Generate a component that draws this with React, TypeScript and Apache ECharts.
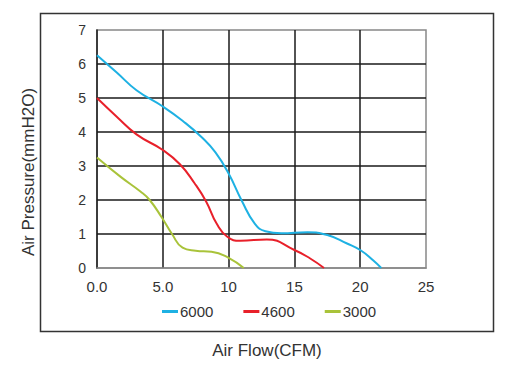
import React, { useEffect, useRef } from "react";
import * as echarts from "echarts";

const flow6000 = [0, 1.5, 3.0, 5.0, 6.5, 8.0, 9.0, 10.0, 11.0, 12.0, 12.8, 14.0, 16.0, 17.5, 19.0, 20.0, 21.0, 21.6];
const pressure6000 = [6.26, 5.75, 5.23, 4.75, 4.33, 3.83, 3.4, 2.78, 1.98, 1.3, 1.08, 1.02, 1.05, 0.97, 0.72, 0.53, 0.22, 0];

const flow4600 = [0, 1.5, 3.0, 5.0, 6.3, 7.4, 8.3, 9.1, 9.9, 10.9, 12.9, 15.0, 16.2, 17.25];
const pressure4600 = [5.0, 4.45, 3.93, 3.47, 3.05, 2.5, 1.95, 1.3, 0.92, 0.8, 0.84, 0.53, 0.28, 0];

const flow3000 = [0, 1.8, 3.3, 4.0, 4.9, 5.7, 6.5, 7.5, 8.7, 10.0, 11.15];
const pressure3000 = [3.25, 2.68, 2.25, 2.0, 1.5, 1.0, 0.6, 0.51, 0.48, 0.3, 0];

const seriesNames = ["6000", "4600", "3000"];
const xTickLabels: Record<number, string> = { 0: "0.0", 5: "5.0", 10: "10", 15: "15", 20: "20", 25: "25" };

const xTitle = "Air Flow(CFM)";
const yTitle = "Air Pressure(mmH2O)";

const zip = (xs: number[], ys: number[]) => xs.map((x, i) => [x, ys[i]]);

export default function App() {
  const ref = useRef<HTMLDivElement>(null);
  useEffect(() => {
    if (!ref.current) return;
    const chart = echarts.init(ref.current, null, { renderer: "svg" });
    const font = "'Liberation Sans', Arial, Helvetica, sans-serif";
    const colors = ["#1eb1e3", "#e8202a", "#a9c33a"];
    const datasets = [
      zip(flow6000, pressure6000),
      zip(flow4600, pressure4600),
      zip(flow3000, pressure3000),
    ];
    chart.setOption({
      animation: false,
      backgroundColor: "#ffffff",
      textStyle: { fontFamily: font },
      grid: {
        left: 97,
        right: 83,
        top: 30,
        bottom: 107,
        show: true,
        borderColor: "#888888",
        borderWidth: 1.5,
        backgroundColor: "transparent",
      },
      legend: {
        data: seriesNames,
        left: 157,
        top: 299,
        icon: "rect",
        itemWidth: 16,
        itemHeight: 3,
        itemGap: 30,
        textStyle: { fontSize: 15, color: "#333", fontFamily: font, padding: [0, 0, 0, -3] },
      },
      xAxis: {
        type: "value",
        min: 0,
        max: 25,
        interval: 5,
        axisLine: { show: true, lineStyle: { color: "#888888", width: 1.5 } },
        axisTick: { show: false },
        axisLabel: {
          fontSize: 15,
          color: "#333",
          margin: 11,
          fontFamily: font,
          formatter: (v: number) => xTickLabels[v] ?? String(v),
        },
        splitLine: { show: true, showMaxLine: false, showMinLine: false, lineStyle: { color: "#1a1a1a", width: 1.5 } },
      },
      yAxis: {
        type: "value",
        min: 0,
        max: 7,
        interval: 1,
        axisLine: { show: true, lineStyle: { color: "#1a1a1a", width: 1.5 } },
        axisTick: { show: false },
        axisLabel: { fontSize: 14, color: "#333", margin: 11, fontFamily: font },
        splitLine: { show: true, showMaxLine: false, showMinLine: false, lineStyle: { color: "#1a1a1a", width: 1.5 } },
      },
      graphic: [
        {
          type: "rect",
          shape: { x: 40.5, y: 13.5, width: 453, height: 318 },
          style: { fill: "none", stroke: "#333333", lineWidth: 1.5 },
          silent: true,
          z: -1,
        },
        {
          type: "text",
          x: 28,
          y: 172,
          rotation: Math.PI / 2,
          style: {
            text: yTitle,
            font: `17px ${font}`,
            fill: "#333",
            align: "center",
            verticalAlign: "middle",
            textAlign: "center",
            textVerticalAlign: "middle",
          },
        },
        {
          type: "text",
          x: 267,
          y: 350,
          style: {
            text: xTitle,
            font: `17px ${font}`,
            fill: "#333",
            align: "center",
            verticalAlign: "middle",
            textAlign: "center",
            textVerticalAlign: "middle",
          },
        },
      ],
      series: seriesNames.map((name, i) => ({
        name,
        type: "line",
        data: datasets[i],
        smooth: 0.5,
        showSymbol: false,
        symbol: "none",
        color: colors[i],
        lineStyle: { color: colors[i], width: 2 },
        z: 3,
      })),
    });
    return () => chart.dispose();
  }, []);
  return <div ref={ref} style={{ position: "fixed", left: 0, top: 0, width: 509, height: 375 }} />;
}
